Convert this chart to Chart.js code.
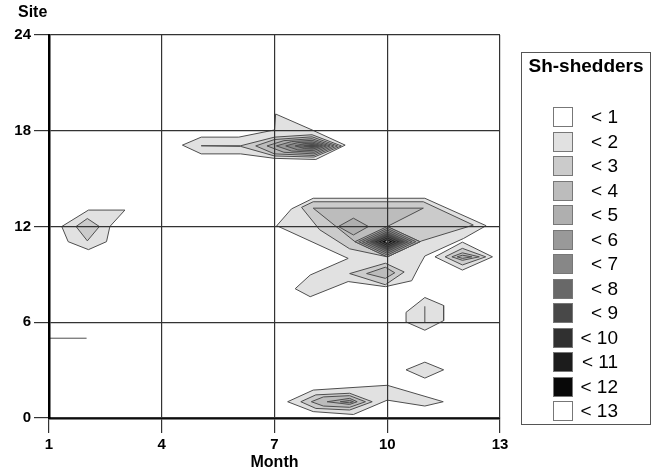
<!DOCTYPE html>
<html>
<head>
<meta charset="utf-8">
<script src="https://cdn.jsdelivr.net/npm/chart.js"></script>
<style>
  body { margin: 0; background: #fff; }
  #wrap { position: relative; width: 655px; height: 476px; }
  #legend {
    position: absolute; left: 521px; top: 52px; width: 130px; height: 373px;
    border: 1px solid #555; box-sizing: border-box;
    font-family: "Liberation Sans", Arial, sans-serif; color: #000;
  }
  #legend .ttl {
    position: absolute; top: 2px; left: 0; right: 0; text-align: center;
    font-weight: bold; font-size: 19px; line-height: 22px;
  }
  #rows { position: absolute; top: 52px; left: 0; right: 0; }
  .row { display: flex; align-items: center; height: 24.5px; }
  .row .sw { width: 18px; height: 18px; margin-left: 31px; border: 1px solid #777; }
  .row span { width: 45px; text-align: right; font-size: 19px; line-height: 20px; }
</style>
</head>
<body>
<div id="wrap">
  <canvas id="chart" width="655" height="476"></canvas>
  <div id="legend">
    <div class="ttl">Sh-shedders</div>
    <div id="rows"></div>
  </div>
</div>
<script>
// legend bands
const legendLabels = ["< 1", "< 2", "< 3", "< 4", "< 5", "< 6", "< 7", "< 8", "< 9", "< 10", "< 11", "< 12", "< 13"];
const bandColors = ["#ffffff", "#e1e1e1", "#cbcbcb", "#bcbcbc", "#afafaf", "#999999", "#878787",
                    "#686868", "#484848", "#303030", "#1c1c1c", "#080808", "#ffffff"];

const monthTicks = [1, 4, 7, 10, 13];
const siteTicks = [0, 6, 12, 18, 24];

// contour outlines: [level, [[month, site], ...]]
const northBlob = [
  [1, [[4.55, 17.1], [5.05, 17.6], [6.05, 17.6], [7.0, 18.05], [7.03, 19.05], [8.0, 18.05], [8.88, 17.1], [8.1, 16.2], [7.0, 16.27], [6.1, 16.55], [5.05, 16.55]]],
  [2, [[5.05, 17.06], [6.1, 17.06], [7.0, 17.6], [8.0, 17.75], [8.78, 17.05], [8.05, 16.35], [7.0, 16.42], [6.1, 17.02]]],
  [3, [[6.5, 17.05], [7.0, 17.45], [8.0, 17.62], [8.68, 17.05], [8.05, 16.45], [7.0, 16.55]]],
  [4, [[6.8, 17.05], [7.25, 17.38], [8.0, 17.5], [8.58, 17.05], [8.05, 16.55], [7.25, 16.65]]],
  [5, [[7.05, 17.05], [7.45, 17.32], [8.0, 17.4], [8.48, 17.05], [8.05, 16.65], [7.45, 16.73]]],
  [6, [[7.3, 17.05], [7.62, 17.26], [8.0, 17.3], [8.38, 17.05], [8.03, 16.75], [7.62, 16.8]]],
  [7, [[7.55, 17.05], [7.8, 17.2], [8.0, 17.22], [8.28, 17.05], [8.02, 16.85], [7.8, 16.88]]],
  [8, [[7.78, 17.05], [8.0, 17.14], [8.18, 17.05], [8.0, 16.95]]],
];

const westBlob = [
  [1, [[1.34, 12.0], [2.05, 13.03], [3.02, 13.03], [2.62, 12.0], [2.53, 11.05], [2.05, 10.55], [1.51, 11.05]]],
  [2, [[1.72, 12.0], [2.02, 12.5], [2.34, 12.0], [2.02, 11.1]]],
  [1, [[1.0, 5.0], [2.0, 5.0]]],
];

const centralBlob = [
  [1, [[7.06, 12.05], [7.45, 13.1], [8.03, 13.77], [11.0, 13.77], [12.63, 12.05], [12.03, 11.25], [11.0, 10.15],
       [10.87, 9.6], [10.65, 8.6], [9.95, 8.23], [8.96, 8.55], [7.95, 7.6], [7.55, 8.1], [7.95, 8.96], [8.96, 10.0]]],
  [2, [[7.72, 13.2], [8.03, 13.55], [10.96, 13.55], [12.29, 12.09], [10.92, 11.1], [10.0, 10.1], [9.0, 10.6], [8.2, 11.8]]],
  [3, [[8.03, 13.15], [10.96, 13.15], [10.0, 12.0], [10.87, 11.05], [10.0, 10.1], [9.14, 11.05]]],
  [4, [[8.7, 12.0], [9.1, 12.52], [9.5, 12.0], [9.1, 11.47]]],
  [4, [[9.14, 11.05], [10.0, 12.0], [10.87, 11.05], [10.0, 10.1]]],
  [5, [[9.24, 11.05], [10.0, 11.89], [10.76, 11.05], [10.0, 10.21]]],
  [6, [[9.34, 11.05], [10.0, 11.78], [10.66, 11.05], [10.0, 10.32]]],
  [7, [[9.44, 11.05], [10.0, 11.67], [10.56, 11.05], [10.0, 10.43]]],
  [8, [[9.54, 11.05], [10.0, 11.56], [10.46, 11.05], [10.0, 10.54]]],
  [9, [[9.64, 11.05], [10.0, 11.45], [10.36, 11.05], [10.0, 10.65]]],
  [10, [[9.74, 11.05], [10.0, 11.34], [10.26, 11.05], [10.0, 10.76]]],
  [11, [[9.84, 11.05], [10.0, 11.23], [10.16, 11.05], [10.0, 10.87]]],
  [12, [[9.94, 11.05], [10.0, 11.12], [10.06, 11.05], [10.0, 10.98]]],
  [2, [[9.0, 9.05], [9.95, 9.7], [10.45, 9.15], [9.95, 8.35]]],
  [3, [[9.45, 9.05], [9.95, 9.45], [10.2, 9.1], [9.95, 8.75]]],
];

const eastBlob = [
  [1, [[11.27, 10.1], [12.0, 11.02], [12.8, 10.1], [12.0, 9.27]]],
  [2, [[11.54, 10.1], [12.0, 10.63], [12.62, 10.1], [12.0, 9.59]]],
  [3, [[11.72, 10.1], [12.0, 10.35], [12.45, 10.1], [12.0, 9.88]]],
  [4, [[11.86, 10.1], [12.0, 10.2], [12.25, 10.1], [12.0, 10.0]]],
  [1, [[10.5, 6.62], [11.0, 7.55], [11.5, 7.05], [11.5, 6.1], [11.0, 5.5], [10.5, 6.02]]],
  [2, [[11.0, 6.0], [11.0, 7.0]]],
  [1, [[10.5, 3.02], [11.0, 3.5], [11.5, 3.02], [11.0, 2.5]]],
];

const southBlob = [
  [1, [[7.35, 1.02], [8.03, 1.75], [10.0, 2.05], [11.49, 1.02], [11.0, 0.75], [10.0, 1.12], [9.1, 0.22], [8.03, 0.4]]],
  [2, [[7.7, 1.02], [8.1, 1.45], [9.0, 1.55], [9.6, 1.02], [9.0, 0.5], [8.1, 0.6]]],
  [3, [[7.98, 1.02], [8.3, 1.32], [9.0, 1.4], [9.42, 1.02], [9.0, 0.67], [8.3, 0.75]]],
  [4, [[8.4, 1.02], [9.0, 1.23], [9.2, 1.02], [9.0, 0.85]]],
  [5, [[8.75, 1.02], [9.0, 1.1], [9.1, 1.02], [9.0, 0.95]]],
];

const blobs = [northBlob, westBlob, centralBlob, eastBlob, southBlob];

const datasets = [];
blobs.forEach((blob) => {
  blob.forEach(([level, pts]) => {
    const closed = pts.length > 2;
    const data = pts.map(([x, y]) => ({ x, y }));
    if (closed) data.push({ x: pts[0][0], y: pts[0][1] });
    datasets.push({
      data,
      fill: closed ? "shape" : false,
      backgroundColor: bandColors[level],
      borderColor: "#4e4e4e",
      borderWidth: 1,
      pointRadius: 0,
      tension: 0,
      order: 20 - level,
    });
  });
});

// legend rows
const rows = document.getElementById("rows");
legendLabels.forEach((label, i) => {
  const row = document.createElement("div");
  row.className = "row";
  row.innerHTML = `<div class="sw" style="background:${bandColors[i]}"></div><span>${label}</span>`;
  rows.appendChild(row);
});

const FONT = '"Liberation Sans", Arial, sans-serif';

const siteCaption = {
  id: "siteCaption",
  afterDraw(chart) {
    const { ctx } = chart;
    ctx.save();
    ctx.font = `bold 16px ${FONT}`;
    ctx.fillStyle = "#000";
    ctx.textBaseline = "middle";
    ctx.fillText("Site", 18, 13);
    ctx.restore();
  },
};

const axisOpts = (ticks, min, max) => ({
  type: "linear",
  min,
  max,
  afterBuildTicks: (scale) => {
    scale.ticks = ticks.map((value) => ({ value }));
  },
  ticks: {
    color: "#000",
    font: { family: FONT, size: 15, weight: "bold" },
    padding: 3,
  },
  grid: { color: "#333", lineWidth: 1.2, tickLength: 15, z: 1 },
  border: { color: "#000", width: 2.5, z: 1 },
});

new Chart(document.getElementById("chart"), {
  type: "line",
  data: { datasets },
  plugins: [siteCaption],
  options: {
    responsive: false,
    animation: false,
    layout: { padding: { left: 0, right: 155, top: 35, bottom: 0 } },
    plugins: { legend: { display: false }, tooltip: { enabled: false } },
    scales: {
      x: {
        ...axisOpts(monthTicks, 1, 13),
        title: { display: true, text: "Month", color: "#000", font: { family: FONT, size: 16, weight: "bold" }, padding: { top: 0 } },
        afterFit: (scale) => { scale.height = 58; },
      },
      y: {
        ...axisOpts(siteTicks, 0, 24),
        afterFit: (scale) => { scale.width = 49; },
      },
    },
  },
});
</script>
</body>
</html>
